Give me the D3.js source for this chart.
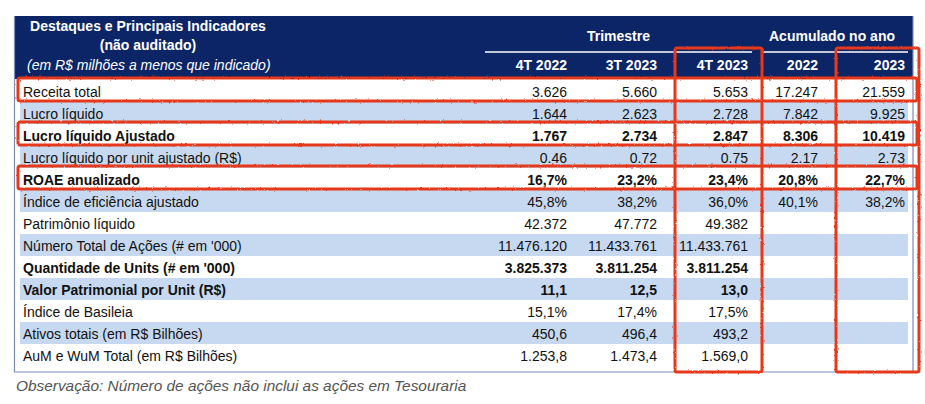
<!DOCTYPE html>
<html><head><meta charset="utf-8">
<script src="https://cdn.jsdelivr.net/npm/d3@7"></script>
<style>html,body{margin:0;padding:0;background:#fff;}svg{display:block;font-family:"Liberation Sans",Arial,sans-serif;}</style>
</head><body><svg id="c" width="925" height="404"></svg>
<script>
const titleLines = ["Destaques e Principais Indicadores", "(não auditado)"];
const subtitle = "(em R$ milhões a menos que indicado)";
const groups = ["Trimestre", "Acumulado no ano"];
const columns = ["4T 2022", "3T 2023", "4T 2023", "2022", "2023"];
const rowLabels = [
  "Receita total", "Lucro líquido", "Lucro líquido Ajustado", "Lucro líquido por unit ajustado (R$)",
  "ROAE anualizado", "Índice de eficiência ajustado", "Patrimônio líquido",
  "Número Total de Ações (# em '000)", "Quantidade de Units (# em '000)",
  "Valor Patrimonial por Unit (R$)", "Índice de Basileia", "Ativos totais (em R$ Bilhões)",
  "AuM e WuM Total (em R$ Bilhões)"
];
const q4_2022 = ["3.626","1.644","1.767","0.46","16,7%","45,8%","42.372","11.476.120","3.825.373","11,1","15,1%","450,6","1.253,8"];
const q3_2023 = ["5.660","2.623","2.734","0.72","23,2%","38,2%","47.772","11.433.761","3.811.254","12,5","17,4%","496,4","1.473,4"];
const q4_2023 = ["5.653","2.728","2.847","0.75","23,4%","36,0%","49.382","11.433.761","3.811.254","13,0","17,5%","493,2","1.569,0"];
const ytd_2022 = ["17.247","7.842","8.306","2.17","20,8%","40,1%","","","","","","",""];
const ytd_2023 = ["21.559","9.925","10.419","2.73","22,7%","38,2%","","","","","","",""];
const footnote = "Observação: Número de ações não inclui as ações em Tesouraria";

const boldRows = [2, 4, 8, 9];
const highlightRows = [0, 2, 4];
const highlightCols = ["4T 2023", "2023"];

const values = [q4_2022, q3_2023, q4_2023, ytd_2022, ytd_2023];
const svg = d3.select("#c");
const NAVY = "#0c2566", BAND = "#c6d9f1", BORDER = "#7d8db5", RED = "#e8381c";

const tableL = 14.5, tableR = 913, tableT = 16, headB = 79, tableB = 372;
const y = d3.scaleBand().domain(d3.range(rowLabels.length)).range([80, 366]);
const xRight = d3.scaleOrdinal().domain(columns).range([567, 657, 748, 818, 905]);

// filter for hand-drawn look
const defs = svg.append("defs");
const f = defs.append("filter").attr("id", "rough").attr("x", "-5%").attr("y", "-5%").attr("width", "110%").attr("height", "110%");
f.append("feTurbulence").attr("type", "fractalNoise").attr("baseFrequency", 0.35).attr("numOctaves", 2).attr("result", "n");
f.append("feDisplacementMap").attr("in", "SourceGraphic").attr("in2", "n").attr("scale", 2.2);

// header
svg.append("rect").attr("x", tableL).attr("y", tableT).attr("width", tableR - tableL).attr("height", headB - tableT).attr("fill", NAVY);
svg.append("g").selectAll("text").data(titleLines).join("text")
  .attr("x", 148).attr("y", (d, i) => 31 + i * 19).attr("text-anchor", "middle")
  .attr("fill", "#fff").attr("font-weight", "bold").attr("font-size", 14).text(d => d);
svg.append("text").attr("x", 27).attr("y", 70).attr("fill", "#fff").attr("font-style", "italic")
  .attr("font-size", 14).text(subtitle);
const groupSpan = [[485, 752], [762, 908]];
svg.append("g").selectAll("text").data(groups).join("text")
  .attr("x", (d, i) => (groupSpan[i][0] + groupSpan[i][1]) / 2 + (i === 0 ? 0 : -3)).attr("y", 41)
  .attr("text-anchor", "middle").attr("fill", "#fff").attr("font-weight", "bold").attr("font-size", 14).text(d => d);
svg.append("g").selectAll("line").data(groupSpan).join("line")
  .attr("x1", d => d[0]).attr("x2", d => d[1]).attr("y1", 52).attr("y2", 52)
  .attr("stroke", "#fff").attr("stroke-width", 1.5);
svg.append("g").selectAll("text").data(columns).join("text")
  .attr("x", d => xRight(d)).attr("y", 70).attr("text-anchor", "end")
  .attr("fill", "#fff").attr("font-weight", "bold").attr("font-size", 14).text(d => d);

// bands
svg.append("g").selectAll("rect").data(d3.range(rowLabels.length).filter(i => i % 2 === 1)).join("rect")
  .attr("x", 20).attr("width", 888).attr("y", d => y(d)).attr("height", y.bandwidth()).attr("fill", BAND);

// borders
svg.append("path").attr("d", `M${tableL},${tableT}V${tableB}H${tableR}V${tableT}`)
  .attr("fill", "none").attr("stroke", BORDER).attr("stroke-width", 1.2);

// row labels
svg.append("g").selectAll("text").data(rowLabels).join("text")
  .attr("x", 23).attr("y", (d, i) => y(i) + 17).attr("font-size", 14).attr("fill", "#111")
  .attr("font-weight", (d, i) => boldRows.includes(i) ? "bold" : "normal").text(d => d);

// values
columns.forEach((c, ci) => {
  svg.append("g").selectAll("text").data(values[ci]).join("text")
    .attr("x", xRight(c)).attr("y", (d, i) => y(i) + 17).attr("text-anchor", "end")
    .attr("font-size", 14).attr("fill", "#111")
    .attr("font-weight", (d, i) => boldRows.includes(i) ? "bold" : "normal").text(d => d);
});

// footnote
svg.append("text").attr("x", 16).attr("y", 391).attr("font-size", 15.4).attr("font-style", "italic")
  .attr("fill", "#555").text(footnote);

// red annotation boxes
const ann = svg.append("g").attr("filter", "url(#rough)").attr("fill", "none").attr("stroke", RED)
  .attr("stroke-width", 3).attr("stroke-linejoin", "round");
ann.selectAll("rect.r").data(highlightRows).join("rect").attr("class", "r")
  .attr("x", 18).attr("width", 899).attr("y", d => y(d) - 2).attr("height", y.bandwidth() + 1).attr("rx", 2);
ann.selectAll("rect.c").data(highlightCols).join("rect").attr("class", "c")
  .attr("x", d => xRight(columns[columns.indexOf(d) - 1]) + 18)
  .attr("width", d => xRight(d) + 14 - (xRight(columns[columns.indexOf(d) - 1]) + 18))
  .attr("y", 48).attr("height", 324).attr("rx", 2);
</script></body></html>
